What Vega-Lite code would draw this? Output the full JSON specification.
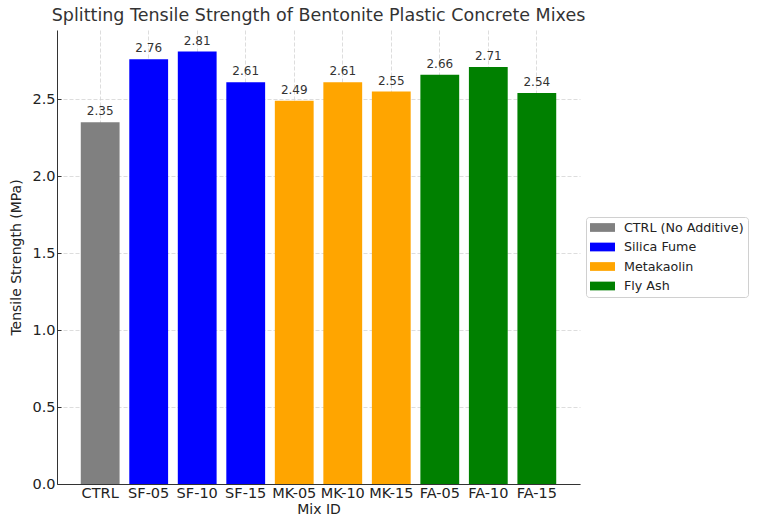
{
  "$schema": "https://vega.github.io/schema/vega-lite/v6.json",
  "width": 523,
  "height": 454,
  "autosize": {"type": "none"},
  "padding": {"left": 57, "top": 30, "right": 177, "bottom": 46},
  "background": "white",
  "config": {
    "view": {"stroke": null},
    "font": "DejaVu Sans",
    "axis": {
      "labelFont": "DejaVu Sans",
      "titleFont": "DejaVu Sans",
      "labelFontSize": 14.5,
      "titleFontSize": 14,
      "labelColor": "#222",
      "titleColor": "#222",
      "titleFontWeight": "normal",
      "domainColor": "#333",
      "tickColor": "#333",
      "gridColor": "#d4d4d4",
      "gridDash": [4, 2],
      "gridWidth": 0.8
    }
  },
  "title": {
    "text": "Splitting Tensile Strength of Bentonite Plastic Concrete Mixes",
    "font": "DejaVu Sans",
    "fontSize": 17.5,
    "fontWeight": "normal",
    "color": "#333",
    "anchor": "middle",
    "offset": 6
  },
  "data": {
    "values": [
      {"mix": "CTRL", "strength": 2.35, "group": "CTRL (No Additive)"},
      {"mix": "SF-05", "strength": 2.76, "group": "Silica Fume"},
      {"mix": "SF-10", "strength": 2.81, "group": "Silica Fume"},
      {"mix": "SF-15", "strength": 2.61, "group": "Silica Fume"},
      {"mix": "MK-05", "strength": 2.49, "group": "Metakaolin"},
      {"mix": "MK-10", "strength": 2.61, "group": "Metakaolin"},
      {"mix": "MK-15", "strength": 2.55, "group": "Metakaolin"},
      {"mix": "FA-05", "strength": 2.66, "group": "Fly Ash"},
      {"mix": "FA-10", "strength": 2.71, "group": "Fly Ash"},
      {"mix": "FA-15", "strength": 2.54, "group": "Fly Ash"}
    ]
  },
  "encoding": {
    "x": {
      "field": "mix",
      "type": "nominal",
      "sort": null,
      "scale": {"paddingInner": 0.2, "paddingOuter": 0.49},
      "axis": {
        "title": "Mix ID",
        "labelAngle": 0,
        "grid": true,
        "bandPosition": 0.5,
        "tickSize": -4,
        "labelPadding": 6,
        "titlePadding": 3
      }
    },
    "y": {
      "field": "strength",
      "type": "quantitative",
      "scale": {"domain": [0, 2.95], "nice": false, "zero": true},
      "axis": {
        "title": "Tensile Strength (MPa)",
        "values": [0, 0.5, 1, 1.5, 2, 2.5],
        "format": ".1f",
        "grid": true,
        "tickSize": -4,
        "labelPadding": 6,
        "titlePadding": 8
      }
    }
  },
  "layer": [
    {
      "mark": {"type": "bar"},
      "encoding": {
        "color": {
          "field": "group",
          "type": "nominal",
          "scale": {
            "domain": ["CTRL (No Additive)", "Silica Fume", "Metakaolin", "Fly Ash"],
            "range": ["#808080", "#0000ff", "#ffa500", "#008000"]
          },
          "legend": {
            "title": null,
            "orient": "none",
            "legendX": 529,
            "legendY": 187,
            "symbolType": "M-2,-0.7H2V0.7H-2Z",
            "symbolSize": 156,
            "symbolStrokeWidth": 0,
            "symbolOffset": 6,
            "labelFont": "DejaVu Sans",
            "labelFontSize": 12.7,
            "labelColor": "#222",
            "strokeColor": "#d0d0d0",
            "fillColor": "white",
            "padding": 4,
            "cornerRadius": 3,
            "rowPadding": 5.5,
            "labelOffset": 15
          }
        }
      }
    },
    {
      "mark": {"type": "text", "baseline": "bottom", "dy": -4, "fontSize": 12, "color": "#333", "font": "DejaVu Sans"},
      "encoding": {
        "text": {"field": "strength", "type": "quantitative", "format": ".2f"}
      }
    }
  ]
}
